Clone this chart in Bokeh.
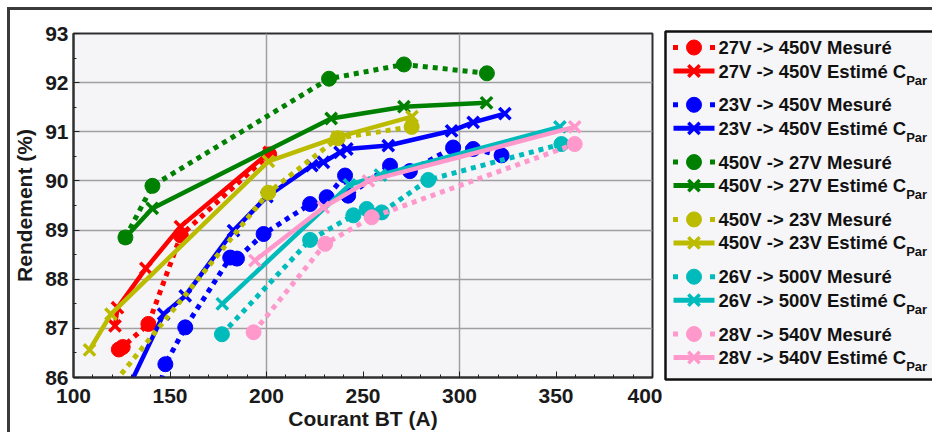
from bokeh.plotting import figure
from bokeh.models import Range1d, FixedTicker
from bokeh.layouts import row
from bokeh.core.properties import value
from bokeh.embed import file_html
from bokeh.resources import INLINE

FONT = "Liberation Sans"

# ---------------- data ----------------
red_mes_x = [123.5, 125.5, 138.8, 155.6, 201.4]
red_mes_y = [86.57, 86.62, 87.09, 88.89, 90.54]
red_est_x = [121.5, 122.8, 137.5, 155.4, 201.4]
red_est_y = [87.05, 87.42, 88.22, 89.07, 90.58]

blue_mes_x = [143.0, 147.6, 157.9, 181.2, 184.7, 198.5, 222.6, 231.2, 240.7, 242.3, 264.0, 274.3, 296.7, 307.1, 321.8]
blue_mes_y = [85.55, 86.27, 87.02, 88.44, 88.42, 88.92, 89.53, 89.67, 90.11, 89.70, 90.31, 90.20, 90.68, 90.65, 90.52]
blue_est_x = [127.0, 146.7, 157.9, 182.9, 200.2, 223.5, 229.5, 238.1, 241.6, 263.1, 295.9, 307.1, 323.5]
blue_est_y = [85.67, 87.29, 87.66, 88.99, 89.68, 90.31, 90.38, 90.58, 90.65, 90.72, 91.02, 91.19, 91.37]

green_mes_x = [126.9, 140.9, 232.4, 271.2, 314.2]
green_mes_y = [88.85, 89.90, 92.08, 92.37, 92.19]
green_est_x = [126.9, 140.8, 233.5, 271.2, 314.0]
green_est_y = [88.85, 89.44, 91.27, 91.51, 91.59]

yellow_mes_x = [115.0, 200.9, 236.9, 275.2]
yellow_mes_y = [85.60, 89.76, 90.87, 91.10]
yellow_est_x = [108.3, 119.4, 201.0, 236.9, 275.4]
yellow_est_y = [86.56, 87.29, 90.40, 90.89, 91.31]

cyan_mes_x = [176.9, 222.6, 245.0, 251.9, 259.7, 283.8, 352.8]
cyan_mes_y = [86.88, 88.80, 89.30, 89.43, 89.36, 90.02, 90.75]
cyan_est_x = [177.1, 243.0, 259.0, 352.0]
cyan_est_y = [87.50, 89.92, 90.12, 91.10]

pink_mes_x = [193.3, 230.4, 254.5, 359.7]
pink_mes_y = [86.92, 88.72, 89.26, 90.75]
pink_est_x = [194.0, 229.5, 252.8, 359.7]
pink_est_y = [88.38, 89.46, 90.00, 91.10]

x_ticks = [100, 150, 200, 250, 300, 350, 400]
y_ticks = [86, 87, 88, 89, 90, 91, 92, 93]

series = [
    ("27V -> 450V", "#ff0000", red_mes_x, red_mes_y, red_est_x, red_est_y),
    ("23V -> 450V", "#0000ff", blue_mes_x, blue_mes_y, blue_est_x, blue_est_y),
    ("450V -> 27V", "#008000", green_mes_x, green_mes_y, green_est_x, green_est_y),
    ("450V -> 23V", "#bbbb00", yellow_mes_x, yellow_mes_y, yellow_est_x, yellow_est_y),
    ("26V -> 500V", "#00bbbb", cyan_mes_x, cyan_mes_y, cyan_est_x, cyan_est_y),
    ("28V -> 540V", "#ff99cc", pink_mes_x, pink_mes_y, pink_est_x, pink_est_y),
]

# ---------------- chart ----------------
p = figure(frame_width=579, frame_height=344, x_range=Range1d(100, 400), y_range=Range1d(86, 93),
           output_backend="svg", toolbar_location=None,
           min_border_left=63, min_border_right=10, min_border_top=23, min_border_bottom=54,
           background_fill_color="#f5f5f8", border_fill_color="white")
p.frame_align = False
p.outline_line_color = "#303030"
p.outline_line_width = 2

p.xaxis.ticker = FixedTicker(ticks=x_ticks, minor_ticks=list(range(100, 401, 10)))
p.yaxis.ticker = FixedTicker(ticks=y_ticks, minor_ticks=[v + 0.5 for v in y_ticks[:-1]])
for ax in (p.xaxis[0], p.yaxis[0]):
    ax.axis_line_color = "#303030"
    ax.axis_line_width = 2
    ax.major_tick_in = 6
    ax.major_tick_out = 0
    ax.minor_tick_in = 3
    ax.minor_tick_out = 0
    ax.major_tick_line_color = "#202020"
    ax.minor_tick_line_color = "#202020"
    ax.major_label_text_font = FONT
    ax.major_label_text_font_style = "bold"
    ax.major_label_text_font_size = "21px"
    ax.major_label_text_color = "#1a1a1a"
    ax.axis_label_text_font = FONT
    ax.axis_label_text_font_style = "bold"
    ax.axis_label_text_font_size = "21px"
    ax.axis_label_text_color = "#1a1a1a"
p.xaxis.axis_label = "Courant BT (A)"
p.yaxis.axis_label = "Rendement (%)"
p.xaxis.major_label_standoff = 11
p.xaxis.axis_label_standoff = 1
p.yaxis.major_label_standoff = 5
p.yaxis.axis_label_standoff = 6

p.xgrid.ticker = FixedTicker(ticks=[200, 300])
for g in (p.xgrid[0], p.ygrid[0]):
    g.grid_line_color = "#a0a0a0"
    g.grid_line_width = 1.5

for name, col, mx, my, ex, ey in series:
    p.line(mx, my, line_color=col, line_width=5, line_dash="5 5")
    p.scatter(mx, my, marker="circle", size=15, fill_color=col, line_color=col)
    p.line(ex, ey, line_color=col, line_width=4.5)
    p.scatter(ex, ey, marker="x", size=16, line_color=col, line_width=3.5)

# ---------------- legend panel ----------------
LW = 270
LH = 421
leg = figure(frame_width=LW, frame_height=LH, x_range=Range1d(0, LW), y_range=Range1d(LH, 0),
             output_backend="svg", toolbar_location=None, x_axis_type=None, y_axis_type=None,
             min_border=0, background_fill_color="white", border_fill_color="white")
leg.frame_align = False
leg.outline_line_color = None
leg.grid.visible = False

leg.quad(left=[3], right=[LW + 20], top=[21], bottom=[369], fill_color="#f6f6f8", line_color=None)
leg.line([LW + 20, 3, 3, LW + 20], [21, 21, 369, 369], line_color="#101010", line_width=2.5)

fs = 18.5
sub_x = 56 + 10.144 * fs
for i, (name, col, mx, my, ex, ey) in enumerate(series):
    ym = 37 + 57.3 * i
    ye = ym + 23.5
    leg.scatter([13, 50], [ym, ym], marker="square", size=5, fill_color=col, line_color=None)
    leg.scatter([31.5], [ym], marker="circle", size=15, fill_color=col, line_color=col)
    leg.line([11, 52], [ye, ye], line_color=col, line_width=5)
    leg.scatter([31.5], [ye], marker="x", size=16, line_color=col, line_width=3.5)
    leg.text([56], [ym], text=[name + " Mesuré"], text_font=value(FONT), text_font_style="bold",
             text_font_size=f"{fs}px", text_baseline="middle", text_align="left", text_color="#111111")
    leg.text([56], [ye], text=[name + " Estimé C"], text_font=value(FONT), text_font_style="bold",
             text_font_size=f"{fs}px", text_baseline="middle", text_align="left", text_color="#111111")
    leg.text([sub_x], [ye + 9], text=["Par"], text_font=value(FONT), text_font_style="bold",
             text_font_size="13px", text_baseline="middle", text_align="left", text_color="#111111")

layout = row(p, leg, spacing=0)
layout.styles = {"margin-left": "7px", "margin-top": "7px",
                 "border-left": "3px solid #3a3a3a", "border-top": "3px solid #3a3a3a"}

open("out.html", "w").write(file_html(layout, INLINE))
